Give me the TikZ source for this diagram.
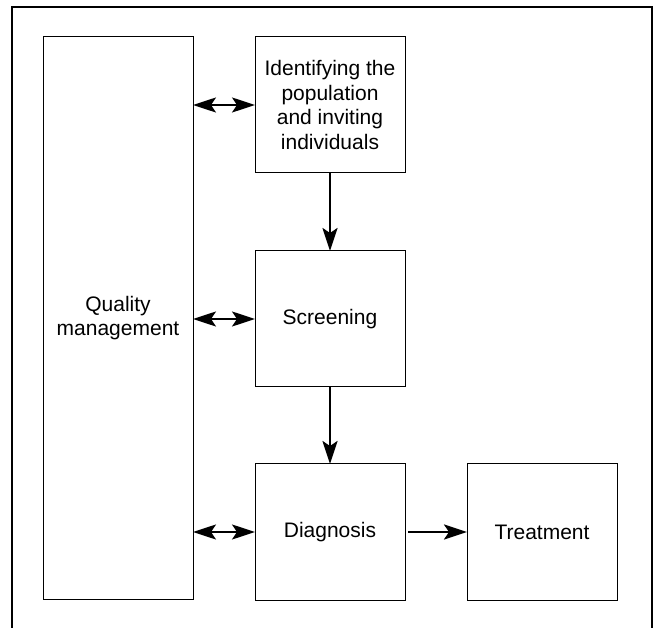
\documentclass[tikz,border=0pt]{standalone}
\usepackage{fontspec}
\setmainfont{Liberation Sans}
\usetikzlibrary{arrows.meta}

\begin{document}
\begin{tikzpicture}
  [x=1pt,y=-1pt,
   every node/.style={draw,rectangle,line width=1pt,outer sep=0pt,
     minimum width=150pt,minimum height=136pt,align=center,
     font=\fontsize{21}{24.5}\selectfont},
   tip/.tip={Stealth[length=23pt,width=15pt,inset=5pt]},
   flow/.style={line width=2.4pt,-tip},
   link/.style={line width=2pt,tip-tip}]
  \useasboundingbox (0,0) rectangle (654,628);
  \draw[line width=2pt] (12,628) -- (12,7) -- (651.5,7) -- (651.5,628);
  \node (qm) at (118,318) [minimum height=562pt] {Quality\\management};
  \node (id) at (330,105) {Identifying the\\population\\and inviting\\individuals};
  \node (scr) at (330,319) {Screening};
  \node (diag) at (330,532) {Diagnosis};
  \node (treat) at (542,532) {Treatment};
  \foreach \step in {id,scr,diag}
    \draw[link] (qm.east |- \step.west) -- (\step.west);
  \foreach \from/\to in {id/scr,scr/diag}
    \draw[flow] (\from) -- (\to);
  \draw[flow,shorten <=3pt] (diag) -- (treat);
\end{tikzpicture}
\end{document}
